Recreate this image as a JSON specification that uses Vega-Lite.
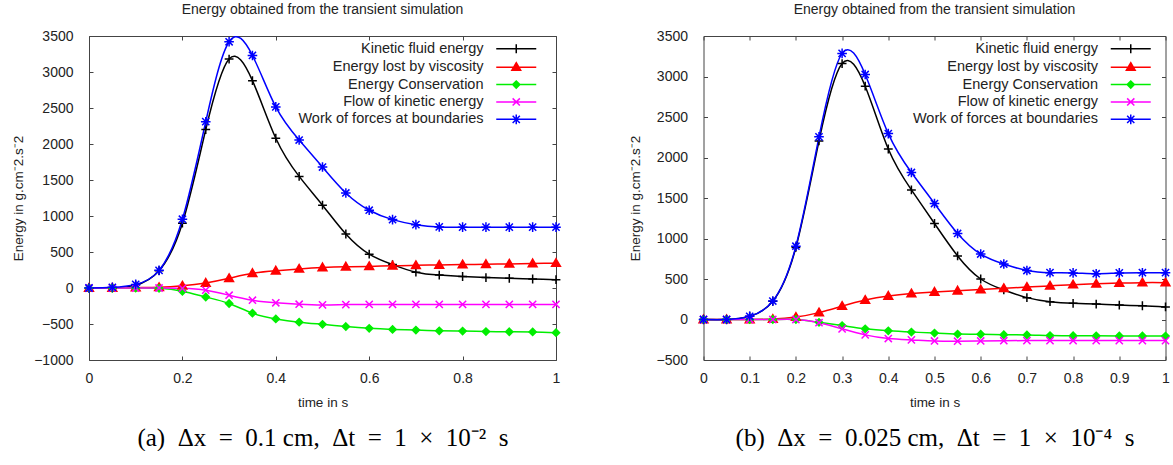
{
  "$schema": "https://vega.github.io/schema/vega-lite/v6.json",
  "background": "white",
  "padding": {"left": 11, "top": 2, "right": 0, "bottom": 0},
  "config": {
    "font": "Liberation Sans",
    "view": {"stroke": "#444", "strokeWidth": 1},
    "axis": {"grid": false, "domain": false, "tickColor": "#444", "tickSize": -4, "labelFlush": false, "labelOverlap": false},
    "title": {"font": "Liberation Sans", "fontSize": 14, "fontWeight": "normal", "color": "#222"}
  },
  "datasets": {
    "a": [
      {"s":"Kinetic fluid energy","t":0,"e":0},{"s":"Kinetic fluid energy","t":0.05,"e":0},{"s":"Kinetic fluid energy","t":0.1,"e":40},{"s":"Kinetic fluid energy","t":0.15,"e":240},{"s":"Kinetic fluid energy","t":0.2,"e":900},{"s":"Kinetic fluid energy","t":0.25,"e":2200},{"s":"Kinetic fluid energy","t":0.3,"e":3180},{"s":"Kinetic fluid energy","t":0.35,"e":2880},{"s":"Kinetic fluid energy","t":0.4,"e":2080},{"s":"Kinetic fluid energy","t":0.45,"e":1550},{"s":"Kinetic fluid energy","t":0.5,"e":1150},{"s":"Kinetic fluid energy","t":0.55,"e":750},{"s":"Kinetic fluid energy","t":0.6,"e":470},{"s":"Kinetic fluid energy","t":0.65,"e":325},{"s":"Kinetic fluid energy","t":0.7,"e":220},{"s":"Kinetic fluid energy","t":0.75,"e":180},{"s":"Kinetic fluid energy","t":0.8,"e":160},{"s":"Kinetic fluid energy","t":0.85,"e":145},{"s":"Kinetic fluid energy","t":0.9,"e":135},{"s":"Kinetic fluid energy","t":0.95,"e":125},{"s":"Kinetic fluid energy","t":1,"e":115},
      {"s":"Energy lost by viscosity","t":0,"e":0},{"s":"Energy lost by viscosity","t":0.05,"e":0},{"s":"Energy lost by viscosity","t":0.1,"e":5},{"s":"Energy lost by viscosity","t":0.15,"e":10},{"s":"Energy lost by viscosity","t":0.2,"e":30},{"s":"Energy lost by viscosity","t":0.25,"e":70},{"s":"Energy lost by viscosity","t":0.3,"e":135},{"s":"Energy lost by viscosity","t":0.35,"e":205},{"s":"Energy lost by viscosity","t":0.4,"e":240},{"s":"Energy lost by viscosity","t":0.45,"e":265},{"s":"Energy lost by viscosity","t":0.5,"e":285},{"s":"Energy lost by viscosity","t":0.55,"e":295},{"s":"Energy lost by viscosity","t":0.6,"e":300},{"s":"Energy lost by viscosity","t":0.65,"e":310},{"s":"Energy lost by viscosity","t":0.7,"e":315},{"s":"Energy lost by viscosity","t":0.75,"e":320},{"s":"Energy lost by viscosity","t":0.8,"e":325},{"s":"Energy lost by viscosity","t":0.85,"e":330},{"s":"Energy lost by viscosity","t":0.9,"e":335},{"s":"Energy lost by viscosity","t":0.95,"e":340},{"s":"Energy lost by viscosity","t":1,"e":345},
      {"s":"Energy Conservation","t":0,"e":0},{"s":"Energy Conservation","t":0.05,"e":0},{"s":"Energy Conservation","t":0.1,"e":0},{"s":"Energy Conservation","t":0.15,"e":-5},{"s":"Energy Conservation","t":0.2,"e":-45},{"s":"Energy Conservation","t":0.25,"e":-125},{"s":"Energy Conservation","t":0.3,"e":-215},{"s":"Energy Conservation","t":0.35,"e":-350},{"s":"Energy Conservation","t":0.4,"e":-430},{"s":"Energy Conservation","t":0.45,"e":-475},{"s":"Energy Conservation","t":0.5,"e":-505},{"s":"Energy Conservation","t":0.55,"e":-535},{"s":"Energy Conservation","t":0.6,"e":-560},{"s":"Energy Conservation","t":0.65,"e":-575},{"s":"Energy Conservation","t":0.7,"e":-585},{"s":"Energy Conservation","t":0.75,"e":-595},{"s":"Energy Conservation","t":0.8,"e":-598},{"s":"Energy Conservation","t":0.85,"e":-605},{"s":"Energy Conservation","t":0.9,"e":-608},{"s":"Energy Conservation","t":0.95,"e":-610},{"s":"Energy Conservation","t":1,"e":-620},
      {"s":"Flow of kinetic energy","t":0,"e":0},{"s":"Flow of kinetic energy","t":0.05,"e":0},{"s":"Flow of kinetic energy","t":0.1,"e":0},{"s":"Flow of kinetic energy","t":0.15,"e":0},{"s":"Flow of kinetic energy","t":0.2,"e":-5},{"s":"Flow of kinetic energy","t":0.25,"e":-30},{"s":"Flow of kinetic energy","t":0.3,"e":-100},{"s":"Flow of kinetic energy","t":0.35,"e":-170},{"s":"Flow of kinetic energy","t":0.4,"e":-205},{"s":"Flow of kinetic energy","t":0.45,"e":-225},{"s":"Flow of kinetic energy","t":0.5,"e":-235},{"s":"Flow of kinetic energy","t":0.55,"e":-230},{"s":"Flow of kinetic energy","t":0.6,"e":-228},{"s":"Flow of kinetic energy","t":0.65,"e":-228},{"s":"Flow of kinetic energy","t":0.7,"e":-228},{"s":"Flow of kinetic energy","t":0.75,"e":-228},{"s":"Flow of kinetic energy","t":0.8,"e":-228},{"s":"Flow of kinetic energy","t":0.85,"e":-228},{"s":"Flow of kinetic energy","t":0.9,"e":-228},{"s":"Flow of kinetic energy","t":0.95,"e":-228},{"s":"Flow of kinetic energy","t":1,"e":-228},
      {"s":"Work of forces at boundaries","t":0,"e":0},{"s":"Work of forces at boundaries","t":0.05,"e":10},{"s":"Work of forces at boundaries","t":0.1,"e":50},{"s":"Work of forces at boundaries","t":0.15,"e":245},{"s":"Work of forces at boundaries","t":0.2,"e":955},{"s":"Work of forces at boundaries","t":0.25,"e":2310},{"s":"Work of forces at boundaries","t":0.3,"e":3420},{"s":"Work of forces at boundaries","t":0.35,"e":3230},{"s":"Work of forces at boundaries","t":0.4,"e":2515},{"s":"Work of forces at boundaries","t":0.45,"e":2055},{"s":"Work of forces at boundaries","t":0.5,"e":1680},{"s":"Work of forces at boundaries","t":0.55,"e":1320},{"s":"Work of forces at boundaries","t":0.6,"e":1080},{"s":"Work of forces at boundaries","t":0.65,"e":950},{"s":"Work of forces at boundaries","t":0.7,"e":880},{"s":"Work of forces at boundaries","t":0.75,"e":848},{"s":"Work of forces at boundaries","t":0.8,"e":845},{"s":"Work of forces at boundaries","t":0.85,"e":845},{"s":"Work of forces at boundaries","t":0.9,"e":845},{"s":"Work of forces at boundaries","t":0.95,"e":845},{"s":"Work of forces at boundaries","t":1,"e":845}
    ],
    "b": [
      {"s":"Kinetic fluid energy","t":0,"e":0},{"s":"Kinetic fluid energy","t":0.05,"e":0},{"s":"Kinetic fluid energy","t":0.1,"e":40},{"s":"Kinetic fluid energy","t":0.15,"e":225},{"s":"Kinetic fluid energy","t":0.2,"e":890},{"s":"Kinetic fluid energy","t":0.25,"e":2205},{"s":"Kinetic fluid energy","t":0.3,"e":3160},{"s":"Kinetic fluid energy","t":0.35,"e":2880},{"s":"Kinetic fluid energy","t":0.4,"e":2105},{"s":"Kinetic fluid energy","t":0.45,"e":1600},{"s":"Kinetic fluid energy","t":0.5,"e":1185},{"s":"Kinetic fluid energy","t":0.55,"e":785},{"s":"Kinetic fluid energy","t":0.6,"e":500},{"s":"Kinetic fluid energy","t":0.65,"e":365},{"s":"Kinetic fluid energy","t":0.7,"e":270},{"s":"Kinetic fluid energy","t":0.75,"e":220},{"s":"Kinetic fluid energy","t":0.8,"e":200},{"s":"Kinetic fluid energy","t":0.85,"e":190},{"s":"Kinetic fluid energy","t":0.9,"e":178},{"s":"Kinetic fluid energy","t":0.95,"e":170},{"s":"Kinetic fluid energy","t":1,"e":155},
      {"s":"Energy lost by viscosity","t":0,"e":0},{"s":"Energy lost by viscosity","t":0.05,"e":0},{"s":"Energy lost by viscosity","t":0.1,"e":0},{"s":"Energy lost by viscosity","t":0.15,"e":5},{"s":"Energy lost by viscosity","t":0.2,"e":30},{"s":"Energy lost by viscosity","t":0.25,"e":85},{"s":"Energy lost by viscosity","t":0.3,"e":165},{"s":"Energy lost by viscosity","t":0.35,"e":240},{"s":"Energy lost by viscosity","t":0.4,"e":290},{"s":"Energy lost by viscosity","t":0.45,"e":320},{"s":"Energy lost by viscosity","t":0.5,"e":340},{"s":"Energy lost by viscosity","t":0.55,"e":355},{"s":"Energy lost by viscosity","t":0.6,"e":370},{"s":"Energy lost by viscosity","t":0.65,"e":385},{"s":"Energy lost by viscosity","t":0.7,"e":400},{"s":"Energy lost by viscosity","t":0.75,"e":415},{"s":"Energy lost by viscosity","t":0.8,"e":430},{"s":"Energy lost by viscosity","t":0.85,"e":440},{"s":"Energy lost by viscosity","t":0.9,"e":450},{"s":"Energy lost by viscosity","t":0.95,"e":455},{"s":"Energy lost by viscosity","t":1,"e":455},
      {"s":"Energy Conservation","t":0,"e":0},{"s":"Energy Conservation","t":0.05,"e":0},{"s":"Energy Conservation","t":0.1,"e":0},{"s":"Energy Conservation","t":0.15,"e":0},{"s":"Energy Conservation","t":0.2,"e":0},{"s":"Energy Conservation","t":0.25,"e":-35},{"s":"Energy Conservation","t":0.3,"e":-75},{"s":"Energy Conservation","t":0.35,"e":-115},{"s":"Energy Conservation","t":0.4,"e":-140},{"s":"Energy Conservation","t":0.45,"e":-155},{"s":"Energy Conservation","t":0.5,"e":-168},{"s":"Energy Conservation","t":0.55,"e":-180},{"s":"Energy Conservation","t":0.6,"e":-182},{"s":"Energy Conservation","t":0.65,"e":-188},{"s":"Energy Conservation","t":0.7,"e":-190},{"s":"Energy Conservation","t":0.75,"e":-198},{"s":"Energy Conservation","t":0.8,"e":-200},{"s":"Energy Conservation","t":0.85,"e":-202},{"s":"Energy Conservation","t":0.9,"e":-203},{"s":"Energy Conservation","t":0.95,"e":-203},{"s":"Energy Conservation","t":1,"e":-205},
      {"s":"Flow of kinetic energy","t":0,"e":0},{"s":"Flow of kinetic energy","t":0.05,"e":0},{"s":"Flow of kinetic energy","t":0.1,"e":0},{"s":"Flow of kinetic energy","t":0.15,"e":0},{"s":"Flow of kinetic energy","t":0.2,"e":0},{"s":"Flow of kinetic energy","t":0.25,"e":-40},{"s":"Flow of kinetic energy","t":0.3,"e":-115},{"s":"Flow of kinetic energy","t":0.35,"e":-190},{"s":"Flow of kinetic energy","t":0.4,"e":-235},{"s":"Flow of kinetic energy","t":0.45,"e":-252},{"s":"Flow of kinetic energy","t":0.5,"e":-265},{"s":"Flow of kinetic energy","t":0.55,"e":-268},{"s":"Flow of kinetic energy","t":0.6,"e":-265},{"s":"Flow of kinetic energy","t":0.65,"e":-262},{"s":"Flow of kinetic energy","t":0.7,"e":-260},{"s":"Flow of kinetic energy","t":0.75,"e":-260},{"s":"Flow of kinetic energy","t":0.8,"e":-260},{"s":"Flow of kinetic energy","t":0.85,"e":-260},{"s":"Flow of kinetic energy","t":0.9,"e":-260},{"s":"Flow of kinetic energy","t":0.95,"e":-260},{"s":"Flow of kinetic energy","t":1,"e":-260},
      {"s":"Work of forces at boundaries","t":0,"e":0},{"s":"Work of forces at boundaries","t":0.05,"e":0},{"s":"Work of forces at boundaries","t":0.1,"e":40},{"s":"Work of forces at boundaries","t":0.15,"e":228},{"s":"Work of forces at boundaries","t":0.2,"e":905},{"s":"Work of forces at boundaries","t":0.25,"e":2255},{"s":"Work of forces at boundaries","t":0.3,"e":3285},{"s":"Work of forces at boundaries","t":0.35,"e":3025},{"s":"Work of forces at boundaries","t":0.4,"e":2295},{"s":"Work of forces at boundaries","t":0.45,"e":1815},{"s":"Work of forces at boundaries","t":0.5,"e":1432},{"s":"Work of forces at boundaries","t":0.55,"e":1062},{"s":"Work of forces at boundaries","t":0.6,"e":808},{"s":"Work of forces at boundaries","t":0.65,"e":685},{"s":"Work of forces at boundaries","t":0.7,"e":605},{"s":"Work of forces at boundaries","t":0.75,"e":578},{"s":"Work of forces at boundaries","t":0.8,"e":575},{"s":"Work of forces at boundaries","t":0.85,"e":565},{"s":"Work of forces at boundaries","t":0.9,"e":575},{"s":"Work of forces at boundaries","t":0.95,"e":578},{"s":"Work of forces at boundaries","t":1,"e":578}
    ]
  },
  "spacing": 62.5,
  "resolve": {
    "scale": {"x": "independent", "y": "independent", "color": "independent", "stroke": "independent", "fill": "independent", "shape": "independent"},
    "legend": {"stroke": "independent", "fill": "independent", "shape": "independent", "color": "independent"}
  },
  "hconcat": [
    {
      "width": 467, "height": 324,
      "title": {"text": "Energy obtained from the transient simulation", "anchor": "middle", "frame": "group", "offset": 12},
      "data": {"name": "a"},
      "resolve": {
        "axis": {"x": "independent", "y": "independent"},
        "scale": {"shape": "independent", "fill": "independent", "stroke": "independent"},
        "legend": {"shape": "independent", "fill": "independent", "stroke": "independent"}
      },
      "layer": [
        {
          "mark": {"type": "line", "interpolate": "natural", "strokeWidth": 1.5},
          "encoding": {
            "x": {"field": "t", "type": "quantitative", "scale": {"domain": [0, 1], "nice": false}, "axis": {"orient": "bottom", "values": [0, 0.2, 0.4, 0.6, 0.8, 1], "format": "~g", "title": "time in s", "labelFont": "Liberation Sans", "labelFontSize": 14, "labelColor": "#222", "titleFont": "Liberation Sans", "titleFontSize": 13.5, "titleFontWeight": "normal", "titleColor": "#222", "labelPadding": 15, "titlePadding": 10}},
            "y": {"field": "e", "type": "quantitative", "scale": {"domain": [-1000, 3500], "nice": false}, "axis": {"orient": "left", "values": [-1000, -500, 0, 500, 1000, 1500, 2000, 2500, 3000, 3500], "format": "d", "title": "Energy in g.cm⁻2.s⁻2", "labelFont": "Liberation Sans", "labelFontSize": 14, "labelColor": "#222", "titleFont": "Liberation Sans", "titleFontSize": 13.5, "titleFontWeight": "normal", "titleColor": "#222", "labelPadding": 20, "titlePadding": 8}},
            "color": {"field": "s", "type": "nominal", "scale": {"domain": ["Work of forces at boundaries", "Flow of kinetic energy", "Energy Conservation", "Energy lost by viscosity", "Kinetic fluid energy"], "range": ["#0000ff", "#ff00ff", "#00ee00", "#ff0000", "#000000"]}, "legend": null}
          }
        },
        {
          "mark": {"type": "point", "size": 64, "strokeWidth": 1.5, "opacity": 1, "filled": false},
          "encoding": {
            "x": {"field": "t", "type": "quantitative", "axis": null},
            "y": {"field": "e", "type": "quantitative", "axis": null},
            "color": {"field": "s", "type": "nominal", "scale": {"domain": ["Work of forces at boundaries", "Flow of kinetic energy", "Energy Conservation", "Energy lost by viscosity", "Kinetic fluid energy"], "range": ["#0000ff", "#ff00ff", "#00ee00", "#ff0000", "#000000"]}, "legend": null},
            "fill": {"field": "s", "type": "nominal", "scale": {"domain": ["Work of forces at boundaries", "Flow of kinetic energy", "Energy Conservation", "Energy lost by viscosity", "Kinetic fluid energy"], "range": ["transparent", "transparent", "#00ee00", "#ff0000", "transparent"]}, "legend": null},
            "shape": {"field": "s", "type": "nominal", "scale": {"domain": ["Work of forces at boundaries", "Flow of kinetic energy", "Energy Conservation", "Energy lost by viscosity", "Kinetic fluid energy"], "range": ["M-0.9,-0.9L0.9,0.9M-0.9,0.9L0.9,-0.9M0,-1.2V1.2M-1.2,0H1.2", "M-0.9,-0.9L0.9,0.9M-0.9,0.9L0.9,-0.9", "M0,-0.9L0.9,0L0,0.9L-0.9,0Z", "M0,-1.1L1.1,0.8L-1.1,0.8Z", "M0,-1.1V1.1M-1.1,0H1.1"]}, "legend": null}
          }
        },
        {
          "transform": [{"filter": "false"}],
          "mark": {"type": "point", "size": 64, "strokeWidth": 1.5, "opacity": 1},
          "encoding": {
            "x": {"field": "t", "type": "quantitative", "axis": null},
            "y": {"field": "e", "type": "quantitative", "axis": null},
            "stroke": {"field": "s", "type": "nominal", "scale": {"domain": ["Kinetic fluid energy", "Energy lost by viscosity", "Energy Conservation", "Flow of kinetic energy", "Work of forces at boundaries"], "range": ["#000000", "#ff0000", "#00ee00", "#ff00ff", "#0000ff"]},
              "legend": {"orient": "none", "legendX": 420, "legendY": 5.5, "title": null, "labelAlign": "right", "labelOffset": -40, "labelFont": "Liberation Sans", "labelFontSize": 14.5, "labelColor": "#222", "labelLimit": 300, "symbolSize": 64, "symbolStrokeWidth": 1.5, "rowPadding": 2.4}},
            "fill": {"field": "s", "type": "nominal", "scale": {"domain": ["Kinetic fluid energy", "Energy lost by viscosity", "Energy Conservation", "Flow of kinetic energy", "Work of forces at boundaries"], "range": ["transparent", "#ff0000", "#00ee00", "transparent", "transparent"]},
              "legend": {"orient": "none", "legendX": 420, "legendY": 5.5, "title": null, "labelAlign": "right", "labelOffset": -40, "labelFont": "Liberation Sans", "labelFontSize": 14.5, "labelColor": "#222", "labelLimit": 300, "symbolSize": 64, "symbolStrokeWidth": 1.5, "rowPadding": 2.4}},
            "shape": {"field": "s", "type": "nominal", "scale": {"domain": ["Kinetic fluid energy", "Energy lost by viscosity", "Energy Conservation", "Flow of kinetic energy", "Work of forces at boundaries"], "range": ["M-5,0H5M0,-1.1V1.1", "M-5,0H5M0,-1.1L1.1,0.8L-1.1,0.8Z", "M-5,0H5M0,-0.9L0.9,0L0,0.9L-0.9,0Z", "M-5,0H5M-0.9,-0.9L0.9,0.9M-0.9,0.9L0.9,-0.9", "M-5,0H5M-0.9,-0.9L0.9,0.9M-0.9,0.9L0.9,-0.9M0,-1.2V1.2"]},
              "legend": {"orient": "none", "legendX": 420, "legendY": 5.5, "title": null, "labelAlign": "right", "labelOffset": -40, "labelFont": "Liberation Sans", "labelFontSize": 14.5, "labelColor": "#222", "labelLimit": 300, "symbolSize": 64, "symbolStrokeWidth": 1.5, "rowPadding": 2.4}}
          }
        },
        {
          "mark": {"type": "point", "opacity": 0},
          "encoding": {
            "x": {"field": "t", "type": "quantitative", "axis": {"orient": "top", "values": [0, 0.2, 0.4, 0.6, 0.8, 1], "labels": false, "title": null}},
            "y": {"field": "e", "type": "quantitative", "axis": {"orient": "right", "values": [-1000, -500, 0, 500, 1000, 1500, 2000, 2500, 3000, 3500], "labels": false, "title": null}}
          }
        },
        {
          "mark": {"type": "point", "opacity": 0},
          "encoding": {
            "x": {"field": "t", "type": "quantitative", "axis": {"orient": "bottom", "ticks": false, "labels": false, "domain": false, "title": "(a)\u2002Δx\u2002=\u20020.1 cm,\u2002Δt\u2002=\u20021\u2002×\u200210⁻²\u2002s", "titleFont": "Liberation Serif", "titleFontSize": 25, "titleFontWeight": "normal", "titleColor": "#000", "titlePadding": 65}}
          }
        }
      ]
    },
    {
      "width": 462, "height": 324,
      "title": {"text": "Energy obtained from the transient simulation", "anchor": "middle", "frame": "group", "offset": 12},
      "data": {"name": "b"},
      "resolve": {
        "axis": {"x": "independent", "y": "independent"},
        "scale": {"shape": "independent", "fill": "independent", "stroke": "independent"},
        "legend": {"shape": "independent", "fill": "independent", "stroke": "independent"}
      },
      "layer": [
        {
          "mark": {"type": "line", "interpolate": "natural", "strokeWidth": 1.5},
          "encoding": {
            "x": {"field": "t", "type": "quantitative", "scale": {"domain": [0, 1], "nice": false}, "axis": {"orient": "bottom", "values": [0, 0.1, 0.2, 0.3, 0.4, 0.5, 0.6, 0.7, 0.8, 0.9, 1], "format": "~g", "title": "time in s", "labelFont": "Liberation Sans", "labelFontSize": 14, "labelColor": "#222", "titleFont": "Liberation Sans", "titleFontSize": 13.5, "titleFontWeight": "normal", "titleColor": "#222", "labelPadding": 15, "titlePadding": 10}},
            "y": {"field": "e", "type": "quantitative", "scale": {"domain": [-500, 3500], "nice": false}, "axis": {"orient": "left", "values": [-500, 0, 500, 1000, 1500, 2000, 2500, 3000, 3500], "format": "d", "title": "Energy in g.cm⁻2.s⁻2", "labelFont": "Liberation Sans", "labelFontSize": 14, "labelColor": "#222", "titleFont": "Liberation Sans", "titleFontSize": 13.5, "titleFontWeight": "normal", "titleColor": "#222", "labelPadding": 20, "titlePadding": 13}},
            "color": {"field": "s", "type": "nominal", "scale": {"domain": ["Work of forces at boundaries", "Flow of kinetic energy", "Energy Conservation", "Energy lost by viscosity", "Kinetic fluid energy"], "range": ["#0000ff", "#ff00ff", "#00ee00", "#ff0000", "#000000"]}, "legend": null}
          }
        },
        {
          "mark": {"type": "point", "size": 64, "strokeWidth": 1.5, "opacity": 1, "filled": false},
          "encoding": {
            "x": {"field": "t", "type": "quantitative", "axis": null},
            "y": {"field": "e", "type": "quantitative", "axis": null},
            "color": {"field": "s", "type": "nominal", "scale": {"domain": ["Work of forces at boundaries", "Flow of kinetic energy", "Energy Conservation", "Energy lost by viscosity", "Kinetic fluid energy"], "range": ["#0000ff", "#ff00ff", "#00ee00", "#ff0000", "#000000"]}, "legend": null},
            "fill": {"field": "s", "type": "nominal", "scale": {"domain": ["Work of forces at boundaries", "Flow of kinetic energy", "Energy Conservation", "Energy lost by viscosity", "Kinetic fluid energy"], "range": ["transparent", "transparent", "#00ee00", "#ff0000", "transparent"]}, "legend": null},
            "shape": {"field": "s", "type": "nominal", "scale": {"domain": ["Work of forces at boundaries", "Flow of kinetic energy", "Energy Conservation", "Energy lost by viscosity", "Kinetic fluid energy"], "range": ["M-0.9,-0.9L0.9,0.9M-0.9,0.9L0.9,-0.9M0,-1.2V1.2M-1.2,0H1.2", "M-0.9,-0.9L0.9,0.9M-0.9,0.9L0.9,-0.9", "M0,-0.9L0.9,0L0,0.9L-0.9,0Z", "M0,-1.1L1.1,0.8L-1.1,0.8Z", "M0,-1.1V1.1M-1.1,0H1.1"]}, "legend": null}
          }
        },
        {
          "transform": [{"filter": "false"}],
          "mark": {"type": "point", "size": 64, "strokeWidth": 1.5, "opacity": 1},
          "encoding": {
            "x": {"field": "t", "type": "quantitative", "axis": null},
            "y": {"field": "e", "type": "quantitative", "axis": null},
            "stroke": {"field": "s", "type": "nominal", "scale": {"domain": ["Kinetic fluid energy", "Energy lost by viscosity", "Energy Conservation", "Flow of kinetic energy", "Work of forces at boundaries"], "range": ["#000000", "#ff0000", "#00ee00", "#ff00ff", "#0000ff"]},
              "legend": {"orient": "none", "legendX": 420, "legendY": 5.5, "title": null, "labelAlign": "right", "labelOffset": -40, "labelFont": "Liberation Sans", "labelFontSize": 14.5, "labelColor": "#222", "labelLimit": 300, "symbolSize": 64, "symbolStrokeWidth": 1.5, "rowPadding": 2.4}},
            "fill": {"field": "s", "type": "nominal", "scale": {"domain": ["Kinetic fluid energy", "Energy lost by viscosity", "Energy Conservation", "Flow of kinetic energy", "Work of forces at boundaries"], "range": ["transparent", "#ff0000", "#00ee00", "transparent", "transparent"]},
              "legend": {"orient": "none", "legendX": 420, "legendY": 5.5, "title": null, "labelAlign": "right", "labelOffset": -40, "labelFont": "Liberation Sans", "labelFontSize": 14.5, "labelColor": "#222", "labelLimit": 300, "symbolSize": 64, "symbolStrokeWidth": 1.5, "rowPadding": 2.4}},
            "shape": {"field": "s", "type": "nominal", "scale": {"domain": ["Kinetic fluid energy", "Energy lost by viscosity", "Energy Conservation", "Flow of kinetic energy", "Work of forces at boundaries"], "range": ["M-5,0H5M0,-1.1V1.1", "M-5,0H5M0,-1.1L1.1,0.8L-1.1,0.8Z", "M-5,0H5M0,-0.9L0.9,0L0,0.9L-0.9,0Z", "M-5,0H5M-0.9,-0.9L0.9,0.9M-0.9,0.9L0.9,-0.9", "M-5,0H5M-0.9,-0.9L0.9,0.9M-0.9,0.9L0.9,-0.9M0,-1.2V1.2"]},
              "legend": {"orient": "none", "legendX": 420, "legendY": 5.5, "title": null, "labelAlign": "right", "labelOffset": -40, "labelFont": "Liberation Sans", "labelFontSize": 14.5, "labelColor": "#222", "labelLimit": 300, "symbolSize": 64, "symbolStrokeWidth": 1.5, "rowPadding": 2.4}}
          }
        },
        {
          "mark": {"type": "point", "opacity": 0},
          "encoding": {
            "x": {"field": "t", "type": "quantitative", "axis": {"orient": "top", "values": [0, 0.1, 0.2, 0.3, 0.4, 0.5, 0.6, 0.7, 0.8, 0.9, 1], "labels": false, "title": null}},
            "y": {"field": "e", "type": "quantitative", "axis": {"orient": "right", "values": [-500, 0, 500, 1000, 1500, 2000, 2500, 3000, 3500], "labels": false, "title": null}}
          }
        },
        {
          "mark": {"type": "point", "opacity": 0},
          "encoding": {
            "x": {"field": "t", "type": "quantitative", "axis": {"orient": "bottom", "ticks": false, "labels": false, "domain": false, "title": "(b)\u2002Δx\u2002=\u20020.025 cm,\u2002Δt\u2002=\u20021\u2002×\u200210⁻⁴\u2002s", "titleFont": "Liberation Serif", "titleFontSize": 25, "titleFontWeight": "normal", "titleColor": "#000", "titlePadding": 65}}
          }
        }
      ]
    }
  ]
}
